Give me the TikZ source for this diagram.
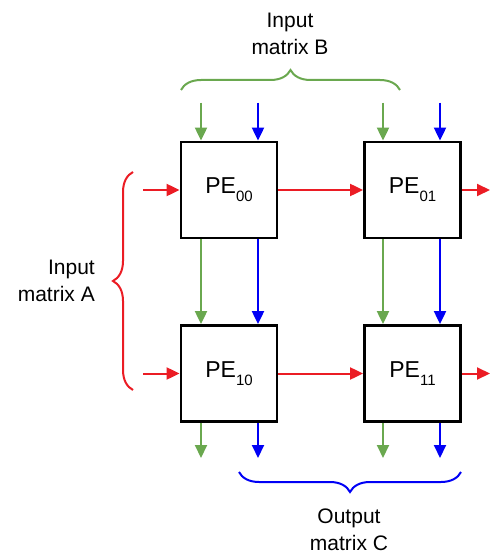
\documentclass[tikz,border=0pt]{standalone}
\usepackage{fontspec}
\setmainfont{Liberation Sans}
\usetikzlibrary{arrows.meta,decorations.pathreplacing}
\definecolor{cgreen}{RGB}{106,168,79}
\definecolor{cred}{RGB}{235,28,36}
\definecolor{cblue}{RGB}{0,0,245}
\newcommand{\pelabel}[1]{PE\raisebox{-8pt}{\fontsize{15}{15}\selectfont #1}}
\tikzset{
  pebox/.style={draw=black, line width=2.8pt, minimum width=96pt, minimum height=96pt, inner sep=0pt, font=\fontsize{23}{23}\selectfont},
  flow/.style={line width=2pt, -{Triangle[length=13pt,width=12pt]}},
  gflow/.style={flow, draw=cgreen, fill=cgreen},
  bflow/.style={flow, draw=cblue, fill=cblue},
  rflow/.style={flow, draw=cred, fill=cred},
  bracestyle/.style={line width=2pt, decorate, decoration={brace, amplitude=20pt}},
  lbl/.style={font=\fontsize{21}{27}\selectfont, inner sep=0pt}
}
\begin{document}
\begin{tikzpicture}[x=1pt,y=-1pt]
\useasboundingbox (0,0) rectangle (490,559);
% PEs
\node[pebox] (p00) at (229,190) {\pelabel{00}};
\node[pebox] (p01) at (412.5,190) {\pelabel{01}};
\node[pebox] (p10) at (229,373.5) {\pelabel{10}};
\node[pebox] (p11) at (412.5,373.5) {\pelabel{11}};
% free ends
\coordinate (g0) at (201,103);
\coordinate (b0) at (258,103);
\coordinate (g1) at (383,103);
\coordinate (b1) at (440,103);
\coordinate (a0) at (143,190);
\coordinate (a1) at (143,373.5);
\coordinate (r0) at (490,190);
\coordinate (r1) at (490,373.5);
\coordinate (go0) at (201,458);
\coordinate (bo0) at (258,458);
\coordinate (go1) at (383,458);
\coordinate (bo1) at (440,458);
% top inputs
\draw[gflow] (g0) -- (g0 |- p00.north);
\draw[bflow] (b0) -- (b0 |- p00.north);
\draw[gflow] (g1) -- (g1 |- p01.north);
\draw[bflow] (b1) -- (b1 |- p01.north);
% left inputs
\draw[rflow] (a0) -- (p00.west);
\draw[rflow] (a1) -- (p10.west);
% horizontal between
\draw[rflow] (p00.east) -- (p01.west);
\draw[rflow] (p10.east) -- (p11.west);
% right outputs
\draw[rflow] (p01.east) -- (r0);
\draw[rflow] (p11.east) -- (r1);
% vertical between
\draw[gflow] (g0 |- p00.south) -- (g0 |- p10.north);
\draw[bflow] (b0 |- p00.south) -- (b0 |- p10.north);
\draw[gflow] (g1 |- p01.south) -- (g1 |- p11.north);
\draw[bflow] (b1 |- p01.south) -- (b1 |- p11.north);
% bottom outputs
\draw[gflow] (go0 |- p10.south) -- (go0);
\draw[bflow] (bo0 |- p10.south) -- (bo0);
\draw[gflow] (go1 |- p11.south) -- (go1);
\draw[bflow] (bo1 |- p11.south) -- (bo1);
% braces
\draw[bracestyle, cgreen] (181,90) -- (400,90);
\draw[bracestyle, cred] (133,390) -- (133,172);
\draw[bracestyle, cblue] (461,472) -- (239,472);
% labels
\node[lbl, align=center] (lb) at (290,34) {Input\\matrix B};
\node[lbl, align=right, anchor=east] (la) at (95,281) {Input\\matrix A};
\node[lbl, align=center] (lc) at (349,530) {Output\\matrix C};
\end{tikzpicture}
\end{document}
